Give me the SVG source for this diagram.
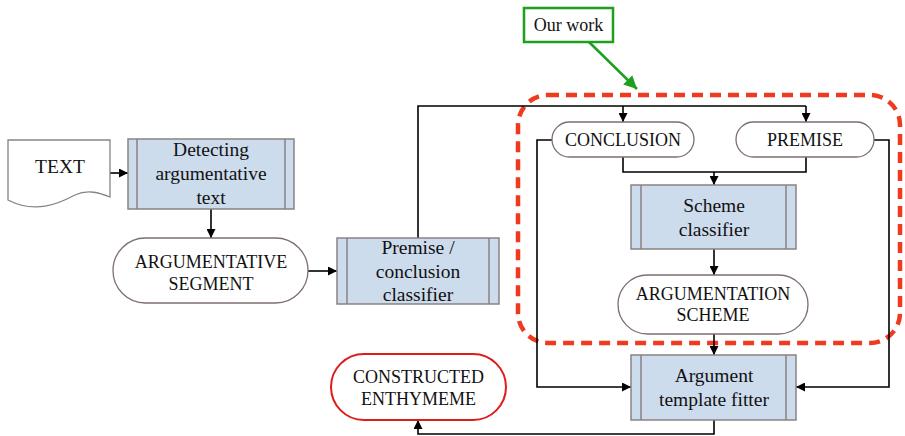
<svg xmlns="http://www.w3.org/2000/svg" width="905" height="436" viewBox="0 0 905 436" font-family="'Liberation Serif', 'Times New Roman', 'DejaVu Serif', serif">
<defs>
<marker id="ah" viewBox="0 0 10 10" refX="10" refY="5" markerWidth="9" markerHeight="9" markerUnits="userSpaceOnUse" orient="auto">
<path d="M0,0 L10,5 L0,10 z" fill="#000"/>
</marker>
<marker id="gh" viewBox="0 0 10 10" refX="10" refY="5" markerWidth="13" markerHeight="13" markerUnits="userSpaceOnUse" orient="auto">
<path d="M0,0 L10,5 L0,10 z" fill="#1ea01e"/>
</marker>
<style>
text{font-family:'Liberation Serif','Times New Roman','DejaVu Serif',serif;fill:#111;text-anchor:middle}
.t{font-size:19.5px}
.c{font-size:18px}
.box{fill:#cddced;stroke:#8a8282;stroke-width:1.5}
.in{stroke:#8a8282;stroke-width:1.5}
.pill{fill:#fff;stroke:#7d6f6f;stroke-width:1.3}
.ln{fill:none;stroke:#000;stroke-width:1.6}
</style>
</defs>

<g id="group-our-work-region">
<rect x="518" y="95" width="382" height="248" rx="30" ry="30" fill="none" stroke="#f03a20" stroke-width="4.5" stroke-dasharray="11 7"/>
</g>

<g id="connectors">
<path class="ln" d="M110,173 H128" marker-end="url(#ah)"/>
<path class="ln" d="M211,209 V238" marker-end="url(#ah)"/>
<path class="ln" d="M308,271 H337" marker-end="url(#ah)"/>
<path class="ln" d="M418,238 V106 H806"/>
<path class="ln" d="M623,106 V122" marker-end="url(#ah)"/>
<path class="ln" d="M806,106 V122" marker-end="url(#ah)"/>
<path class="ln" d="M623,157 V172 H806 V157"/>
<path class="ln" d="M714,172 V185" marker-end="url(#ah)"/>
<path class="ln" d="M552,140 H537 V387 H631" marker-end="url(#ah)"/>
<path class="ln" d="M874,140 H889 V387 H796" marker-end="url(#ah)"/>
<path class="ln" d="M714,249 V275" marker-end="url(#ah)"/>
<path class="ln" d="M714,334 V355" marker-end="url(#ah)"/>
<path class="ln" d="M714,420 V434 H418 V420" marker-end="url(#ah)"/>
<path d="M589,42 L637,89" fill="none" stroke="#1ea01e" stroke-width="2.5" marker-end="url(#gh)"/>
</g>

<g id="node-text">
<path d="M8,140 H110 V197 C100,193 88,189 75,195 C58,204 35,214 8,200 Z" fill="#fff" stroke="#8a8282" stroke-width="1.3"/>
<text class="t" x="60" y="173">TEXT</text>
</g>

<g id="node-detecting">
<rect class="box" x="128" y="139" width="166" height="70"/>
<line class="in" x1="137" y1="139" x2="137" y2="209"/>
<line class="in" x1="285" y1="139" x2="285" y2="209"/>
<text class="t" x="211" y="156">Detecting</text>
<text class="t" x="211" y="180">argumentative</text>
<text class="t" x="211" y="204">text</text>
</g>

<g id="node-argumentative-segment">
<rect class="pill" x="113" y="238" width="195" height="65" rx="32.5" ry="32.5"/>
<text class="c" x="211" y="268">ARGUMENTATIVE</text>
<text class="c" x="211" y="290">SEGMENT</text>
</g>

<g id="node-premise-conclusion">
<rect class="box" x="337" y="238" width="162" height="66"/>
<line class="in" x1="347" y1="238" x2="347" y2="304"/>
<line class="in" x1="489" y1="238" x2="489" y2="304"/>
<text class="t" x="418" y="254">Premise /</text>
<text class="t" x="418" y="278">conclusion</text>
<text class="t" x="418" y="301">classifier</text>
</g>

<g id="node-our-work">
<rect x="524" y="8" width="89" height="34" fill="#fff" stroke="#1ea01e" stroke-width="2.5"/>
<text class="c" x="568.5" y="31">Our work</text>
</g>

<g id="node-conclusion">
<rect class="pill" x="552" y="122" width="142" height="35" rx="17.5" ry="17.5"/>
<text class="c" x="623" y="146">CONCLUSION</text>
</g>

<g id="node-premise">
<rect class="pill" x="736" y="122" width="138" height="35" rx="17.5" ry="17.5"/>
<text class="c" x="805" y="146">PREMISE</text>
</g>

<g id="node-scheme-classifier">
<rect class="box" x="631" y="185" width="165" height="64"/>
<line class="in" x1="641" y1="185" x2="641" y2="249"/>
<line class="in" x1="786" y1="185" x2="786" y2="249"/>
<text class="t" x="714" y="212">Scheme</text>
<text class="t" x="714" y="236">classifier</text>
</g>

<g id="node-argumentation-scheme">
<rect class="pill" x="618" y="275" width="190" height="59" rx="29.5" ry="29.5"/>
<text class="c" x="713" y="300">ARGUMENTATION</text>
<text class="c" x="713" y="321">SCHEME</text>
</g>

<g id="node-template-fitter">
<rect class="box" x="631" y="355" width="165" height="65"/>
<line class="in" x1="641" y1="355" x2="641" y2="420"/>
<line class="in" x1="786" y1="355" x2="786" y2="420"/>
<text class="t" x="714" y="382">Argument</text>
<text class="t" x="714" y="406">template fitter</text>
</g>

<g id="node-constructed-enthymeme">
<rect x="331" y="354" width="175" height="66" rx="33" ry="33" fill="#fff" stroke="#dd1c1c" stroke-width="2"/>
<text class="c" x="418.5" y="383">CONSTRUCTED</text>
<text class="c" x="418.5" y="405">ENTHYMEME</text>
</g>
</svg>
